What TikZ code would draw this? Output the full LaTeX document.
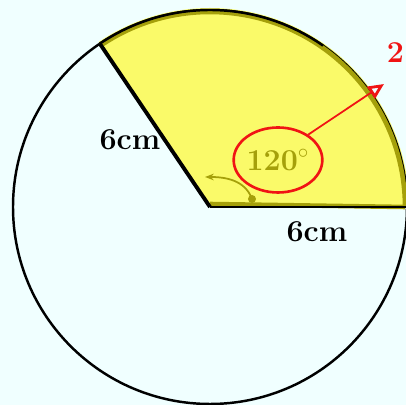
\documentclass[tikz,border=0pt]{standalone}
\usepackage{xcolor}
\usepackage{tikz}
\usetikzlibrary{arrows.meta, positioning, shapes.geometric, calc}
\definecolor{bgazure}{RGB}{240,255,255}
\definecolor{hlyellow}{RGB}{250,250,105}
\definecolor{hlolive}{RGB}{165,160,10}
\definecolor{penred}{RGB}{240,20,20}

\begin{document}
\begin{tikzpicture}[x=0.02cm, y=0.02cm,
  lbl/.style={font=\LARGE\bfseries, text=#1},
  arr/.style={-{Stealth[length=5pt]}, line width=1pt, #1}
]
\fill[bgazure] (0,0) rectangle (406,405);
\useasboundingbox (0,0) rectangle (406,405);
\coordinate (O) at (210,198);
% shaded sector
\fill[hlyellow] (O) -- ++(0:199) arc (0:124:199) -- cycle;
\draw[line width=1.4pt] (O) circle (197);
\draw[hlolive, line width=2.6pt] ($(O)+(124:195)$) arc (124:0:195);
\draw[hlolive, line width=2.6pt] ($(O)+(0:195)$) -- ($(O)+(0,3)$);
\draw[line width=1.4pt] ($(O)+(124:197)$) arc (124:55:197);
\draw[line width=1.4pt] (O) -- ++(0:197);
\draw[line width=2.2pt] (O) -- ++(124:197);
% labels
\node[lbl=black] (lenA) at (130,265) {6cm};
\node[lbl=black] (lenB) at (317,173) {6cm};
\node[lbl=hlolive, draw=penred, line width=1.5pt,
  ellipse, minimum width=1.54cm, minimum height=1.3cm, inner sep=0pt]
  (ang) at (278,245) {120$^\circ$};
\coordinate (tip) at (384,321);
\draw[penred, line width=1pt, -{Triangle[open, length=9pt, width=8pt, line width=1.6pt]}]
  (ang.40) -- (tip);
\node[lbl=penred, anchor=east, inner sep=1pt] (two) at (406,352) {2};
% angle arrow
\coordinate (angS) at (252,206);
\coordinate (angE) at (205,228);
\draw[arr=hlolive] (angS) to[out=110, in=0] (angE);
\fill[hlolive] (angS) circle (4);
\end{tikzpicture}
\end{document}
